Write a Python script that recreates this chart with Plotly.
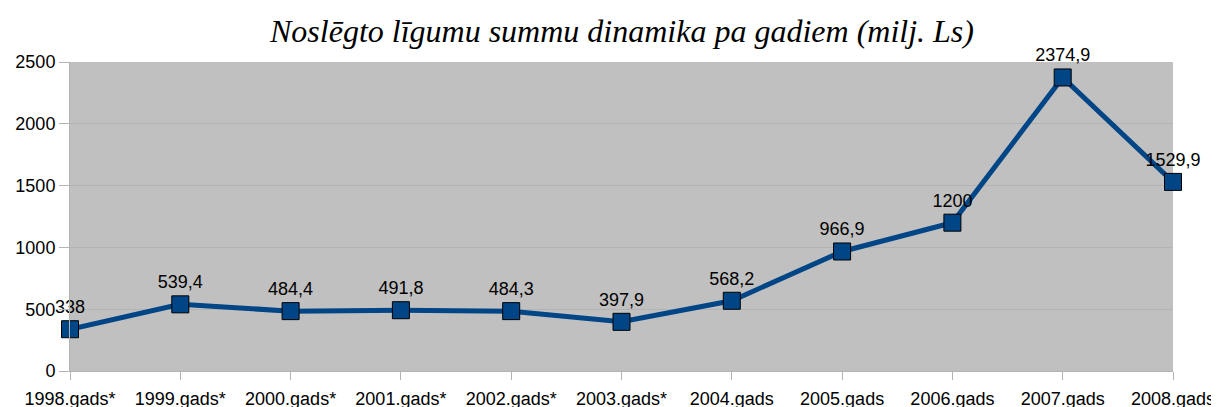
import plotly.graph_objects as go

# Data
years = ["1998.gads*", "1999.gads*", "2000.gads*", "2001.gads*", "2002.gads*",
         "2003.gads*", "2004.gads", "2005.gads", "2006.gads", "2007.gads", "2008.gads"]
sums = [338, 539.4, 484.4, 491.8, 484.3, 397.9, 568.2, 966.9, 1200, 2374.9, 1529.9]
labels = ["338", "539,4", "484,4", "491,8", "484,3", "397,9",
          "568,2", "966,9", "1200", "2374,9", "1529,9"]

fig = go.Figure()
fig.add_trace(go.Scatter(
    x=years, y=sums, mode="lines+markers+text",
    text=labels, textposition="top center",
    textfont=dict(family="Liberation Sans, Arial", size=18, color="black"),
    line=dict(color="#004586", width=5),
    marker=dict(symbol="square", size=17, color="#004586",
                line=dict(color="black", width=1)),
    cliponaxis=False, showlegend=False,
))

# the page adds an 8px body margin, so the figure is shrunk to fit the window
fig.update_layout(
    width=1211, height=399,
    margin=dict(l=62, r=46, t=54, b=36),
    paper_bgcolor="white",
    plot_bgcolor="#c0c0c0",
    font=dict(family="Liberation Sans, Arial", size=18, color="black"),
    title=dict(text="Noslēgto līgumu summu dinamika pa gadiem (milj. Ls)",
               x=0.507, xanchor="center", y=0.943, yanchor="middle",
               font=dict(family="Liberation Serif, Times New Roman", size=32,
                         color="black", style="italic")),
    xaxis=dict(range=[0, 10], showgrid=False, ticks="outside", ticklen=8,
               tickcolor="#b3b3b3", showline=True, linecolor="#b3b3b3",
               tickfont=dict(size=18), automargin=False, ticklabelstandoff=3),
    yaxis=dict(range=[0, 2500], dtick=500, gridcolor="#b3b3b3", ticks="outside",
               ticklen=10, tickcolor="#b3b3b3", showline=True, linecolor="#b3b3b3",
               zeroline=False, tickfont=dict(size=18), automargin=False),
)

# page number, cut off at the top right in the reference
fig.add_annotation(text="<b><i>2.att</i></b>", xref="paper", yref="paper",
                   x=1.041, y=1.153, xanchor="right", yanchor="bottom",
                   showarrow=False,
                   font=dict(family="Liberation Serif", size=26, color="black"))

fig.write_html("out.html")
